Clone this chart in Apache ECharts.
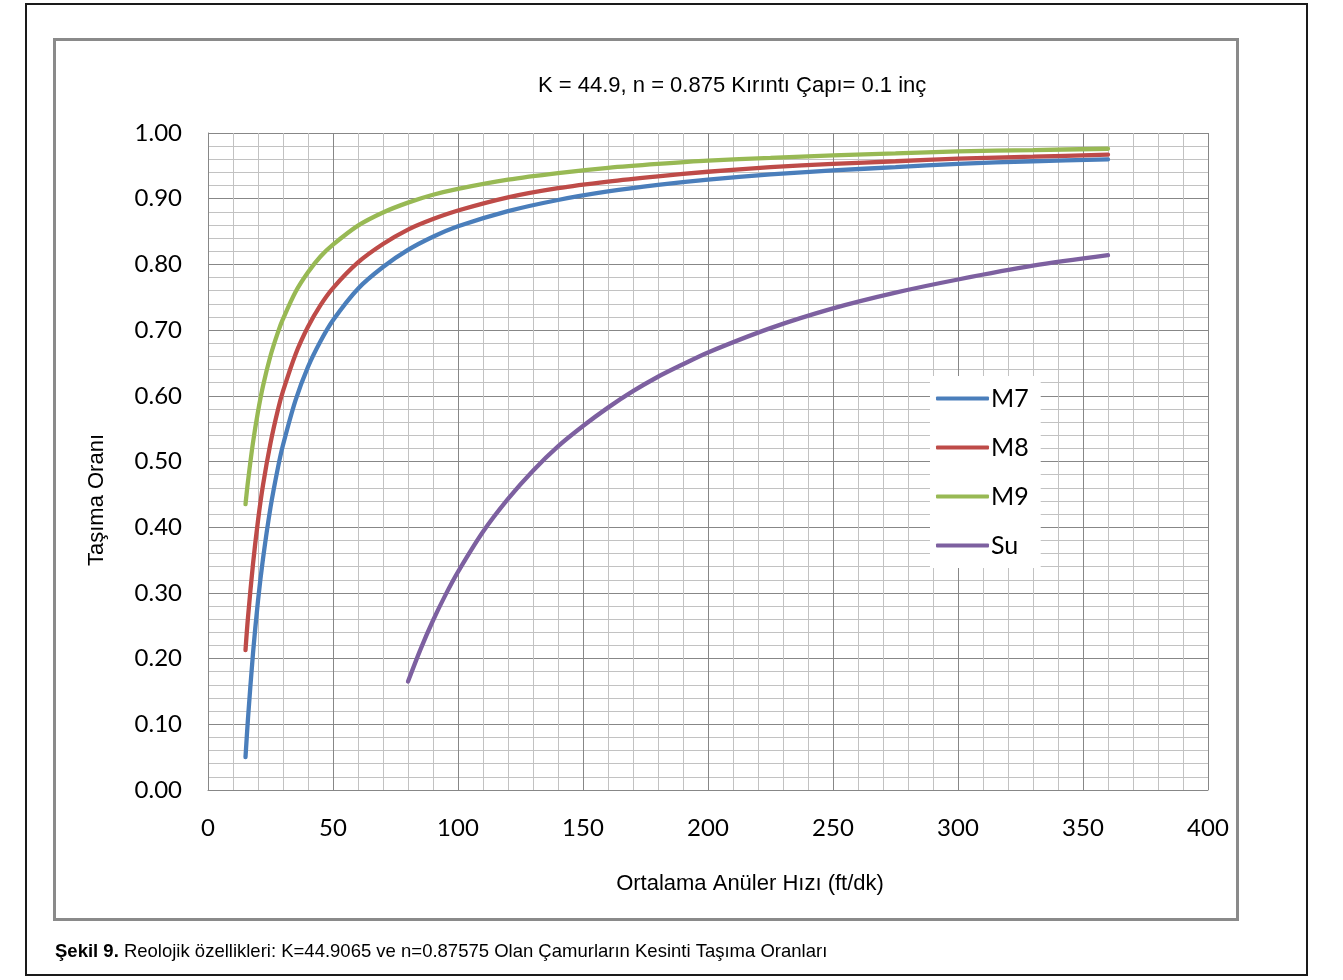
<!DOCTYPE html>
<html>
<head>
<meta charset="utf-8">
<title>Kesinti Taşıma Oranları</title>
<script src="https://cdn.jsdelivr.net/npm/echarts@6/dist/echarts.min.js"></script>
<style>
  html, body { margin: 0; padding: 0; background: #ffffff; }
  #chart { width: 1343px; height: 980px; }
</style>
</head>
<body>
<div id="chart"></div>
<script>
// Annular velocity (ft/dk) for the three muds
const mudVelocity = [15, 16, 18, 20, 22, 25, 28, 30, 35, 40, 45, 50, 60, 70, 80, 90, 100,
  120, 140, 160, 180, 200, 225, 250, 275, 300, 330, 360];
// Transport ratio per mud
const m7 = [0.050, 0.109, 0.208, 0.288, 0.352, 0.430, 0.491, 0.525, 0.593, 0.644, 0.683, 0.715,
  0.763, 0.796, 0.822, 0.842, 0.858, 0.881, 0.898, 0.911, 0.921, 0.929, 0.937, 0.943, 0.948,
  0.953, 0.957, 0.960];
const m8 = [0.213, 0.263, 0.344, 0.410, 0.464, 0.528, 0.579, 0.607, 0.663, 0.705, 0.738, 0.764,
  0.803, 0.831, 0.853, 0.869, 0.882, 0.902, 0.916, 0.926, 0.934, 0.941, 0.948, 0.953, 0.957,
  0.961, 0.964, 0.967];
const m9 = [0.435, 0.470, 0.529, 0.576, 0.615, 0.661, 0.697, 0.717, 0.758, 0.788, 0.812, 0.830,
  0.859, 0.879, 0.894, 0.906, 0.915, 0.929, 0.939, 0.947, 0.953, 0.958, 0.962, 0.966, 0.969,
  0.972, 0.974, 0.976];
// Water
const waterVelocity = [80, 85, 90, 95, 100, 110, 120, 130, 140, 150, 160, 170, 180, 190, 200,
  225, 250, 275, 300, 330, 360];
const su = [0.165, 0.214, 0.258, 0.297, 0.332, 0.393, 0.443, 0.486, 0.523, 0.554, 0.582, 0.607,
  0.629, 0.648, 0.666, 0.703, 0.733, 0.757, 0.777, 0.798, 0.814];

const seriesNames = ['M7', 'M8', 'M9', 'Su'];
const seriesColors = ['#4a7ebb', '#be4b48', '#98b954', '#7d60a0'];

// Axis ticks: gridlines every 10 / 0.02, labels every 50 / 0.10
const xMin = 0, xMax = 400, xStep = 10, xLabelStep = 50;
const yMin = 0, yMax = 1, yStep = 0.02, yLabelStep = 0.1;

const titleText = 'K = 44.9, n = 0.875 Kırıntı Çapı= 0.1 inç';
const xName = 'Ortalama Anüler Hızı (ft/dk)';
const yName = 'Taşıma Oranı';
const captionBold = 'Şekil 9.';
const captionRest = ' Reolojik özellikleri: K=44.9065 ve n=0.87575 Olan Çamurların Kesinti Taşıma Oranları';

function pairs(xs, ys) { return xs.map((x, i) => [x, ys[i]]); }

const seriesData = [pairs(mudVelocity, m7), pairs(mudVelocity, m8), pairs(mudVelocity, m9),
  pairs(waterVelocity, su)];

const tickFont = 'Lato, "Open Sans", sans-serif';
const textFont = '"Liberation Sans", Arial, sans-serif';
const majorGrid = '#878787';
const minorGrid = '#c2c2c2';
// one major line followed by four minor ones
const gridCycle = [majorGrid, minorGrid, minorGrid, minorGrid, minorGrid];

const chart = echarts.init(document.getElementById('chart'), null, { renderer: 'canvas' });

chart.setOption({
  backgroundColor: '#ffffff',
  animation: false,
  title: {
    text: titleText,
    left: 533,
    top: 70,
    textStyle: { fontFamily: textFont, fontSize: 22, fontWeight: 'normal', color: '#000' }
  },
  grid: { left: 208, top: 133, right: 135, bottom: 190, containLabel: false },
  legend: {
    orient: 'vertical',
    left: 930,
    top: 376,
    data: seriesNames,
    icon: 'roundRect',
    itemWidth: 53,
    itemHeight: 4,
    itemGap: 24,
    padding: [10, 12, 10, 6],
    backgroundColor: '#ffffff',
    textStyle: { fontFamily: tickFont, fontSize: 25, color: '#000', padding: [0, 0, 0, -3], lineHeight: 24 }
  },
  xAxis: {
    type: 'value',
    min: xMin, max: xMax, interval: xStep,
    axisLine: { show: true, lineStyle: { color: majorGrid, width: 1 } },
    axisTick: { show: false },
    axisLabel: {
      fontFamily: tickFont, fontSize: 24, color: '#000', margin: 26,
      formatter: v => (Math.round(v) % xLabelStep === 0 ? String(Math.round(v)) : '')
    },
    splitLine: { show: true, lineStyle: { color: gridCycle, width: 1 } }
  },
  yAxis: {
    type: 'value',
    min: yMin, max: yMax, interval: yStep,
    axisLine: { show: true, lineStyle: { color: majorGrid, width: 1 } },
    axisTick: { show: false },
    axisLabel: {
      fontFamily: tickFont, fontSize: 24, color: '#000', margin: 26,
      formatter: v => {
        const k = Math.round(v / yStep);
        return k % Math.round(yLabelStep / yStep) === 0 ? (k * yStep).toFixed(2) : '';
      }
    },
    splitLine: { show: true, lineStyle: { color: gridCycle, width: 1 } }
  },
  series: seriesNames.map((name, i) => ({
    name,
    type: 'line',
    data: seriesData[i],
    showSymbol: false,
    symbol: 'none',
    smooth: 0.3,
    color: seriesColors[i],
    lineStyle: { width: 4.3, color: seriesColors[i], cap: 'round' }
  })),
  graphic: [
    {
      type: 'rect', silent: true, z: -10,
      shape: { x: 26, y: 4, width: 1281, height: 971 },
      style: { fill: 'none', stroke: '#1a1a1a', lineWidth: 2 }
    },
    {
      type: 'rect', silent: true, z: -10,
      shape: { x: 54.5, y: 39.5, width: 1183, height: 880 },
      style: { fill: 'none', stroke: '#8a8a8a', lineWidth: 3 }
    },
    {
      type: 'text', silent: true,
      x: 750, y: 884,
      style: {
        text: xName, fontFamily: textFont, fontSize: 22, fill: '#000',
        align: 'center', verticalAlign: 'middle'
      }
    },
    {
      type: 'text', silent: true,
      x: 97, y: 500, rotation: Math.PI / 2,
      style: {
        text: yName, fontFamily: textFont, fontSize: 22, fill: '#000',
        align: 'center', verticalAlign: 'middle'
      }
    },
    {
      type: 'text', silent: true,
      left: 55, top: 942,
      style: {
        text: '{b|' + captionBold + '}{n|' + captionRest + '}',
        rich: {
          b: { fontFamily: textFont, fontSize: 18.5, fontWeight: 'bold', fill: '#000' },
          n: { fontFamily: textFont, fontSize: 18.5, fill: '#000' }
        }
      }
    }
  ]
});
</script>
</body>
</html>
